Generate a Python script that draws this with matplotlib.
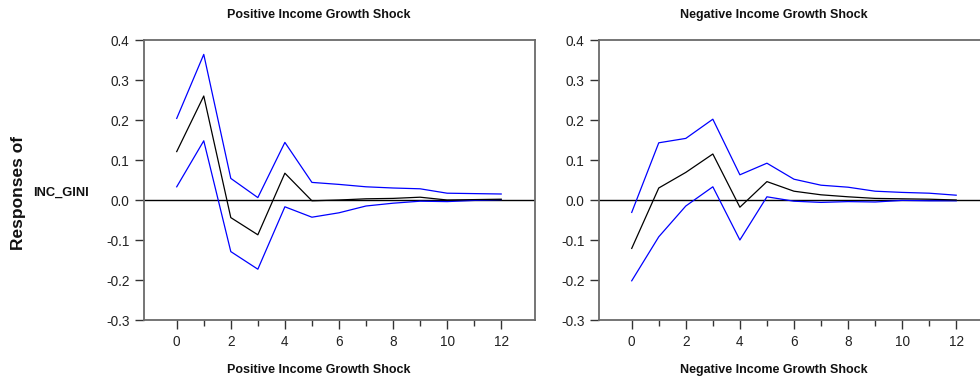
import matplotlib
matplotlib.use("Agg")
import matplotlib.pyplot as plt
from matplotlib.ticker import FixedLocator
import numpy as np

plt.rcParams['font.family'] = ['Liberation Sans', 'DejaVu Sans']

periods = list(range(13))

pos_mid = [0.121, 0.260, -0.044, -0.087, 0.067, -0.002, 0.000, 0.003, 0.004, 0.007, 0.000, 0.001, 0.002]
pos_upper = [0.204, 0.364, 0.054, 0.006, 0.144, 0.044, 0.039, 0.033, 0.030, 0.028, 0.017, 0.016, 0.015]
pos_lower = [0.033, 0.148, -0.129, -0.173, -0.017, -0.043, -0.032, -0.015, -0.008, -0.003, -0.004, -0.001, 0.001]

neg_mid = [-0.121, 0.030, 0.069, 0.115, -0.018, 0.046, 0.022, 0.013, 0.008, 0.004, 0.003, 0.002, 0.000]
neg_upper = [-0.031, 0.143, 0.154, 0.202, 0.063, 0.092, 0.052, 0.037, 0.032, 0.022, 0.019, 0.017, 0.012]
neg_lower = [-0.202, -0.092, -0.015, 0.033, -0.100, 0.008, -0.003, -0.006, -0.004, -0.005, -0.001, -0.002, -0.002]

titles = ["Positive Income Growth Shock", "Negative Income Growth Shock"]
yticks = [-0.3, -0.2, -0.1, 0.0, 0.1, 0.2, 0.3, 0.4]
ytick_labels = ["-0.3", "-0.2", "-0.1", "0.0", "0.1", "0.2", "0.3", "0.4"]
xticks = [0, 2, 4, 6, 8, 10, 12]
xminor = [1, 3, 5, 7, 9, 11]

W, H = 980, 381
fig = plt.figure(figsize=(W / 100, H / 100), dpi=100)

panels = [
    (144, (pos_mid, pos_upper, pos_lower)),
    (599, (neg_mid, neg_upper, neg_lower)),
]
ax_w_px = 391
ax_top_px, ax_bot_px = 40, 320
spine_col = '#6a6a6a'

for (left_px, (mid, up, lo)), title in zip(panels, titles):
    ax = fig.add_axes([left_px / W, (H - ax_bot_px) / H, ax_w_px / W, (ax_bot_px - ax_top_px) / H])
    ax.axhline(0, color='black', lw=1.0, zorder=1)
    ax.plot(periods, up, color='#0000ff', lw=0.9, zorder=2)
    ax.plot(periods, lo, color='#0000ff', lw=0.9, zorder=2)
    ax.plot(periods, mid, color='black', lw=0.9, zorder=3)
    ax.set_xlim(-1.21, 13.25)
    ax.set_ylim(-0.3, 0.4)
    ax.set_yticks(yticks)
    ax.set_yticklabels(ytick_labels)
    ax.set_xticks(xticks)
    ax.set_xticklabels([str(t) for t in xticks])
    ax.xaxis.set_minor_locator(FixedLocator(xminor))
    for s in ax.spines.values():
        s.set_color(spine_col)
        s.set_linewidth(1.3)
    ax.tick_params(axis='both', which='major', direction='out', length=6.5, width=1.0,
                   color='#333333', labelsize=9.8, labelcolor='#222222', pad=4)
    ax.tick_params(axis='x', which='minor', direction='out', length=4.5, width=1.0, color='#333333')
    ax.tick_params(axis='y', which='minor', left=False)
    cx = (left_px + ax_w_px / 2 - 21) / W
    fig.text(cx, 1 - 15 / H, title, ha='center', va='center', fontsize=9, fontweight='bold', color='#111111')
    fig.text(cx, 1 - 370 / H, title, ha='center', va='center', fontsize=9, fontweight='bold', color='#111111')

fig.text(18 / W, 1 - 193 / H, "Responses of", rotation=90, ha='center', va='center',
         fontsize=12.5, fontweight='bold', color='#111111')
fig.text(61 / W, 1 - 193 / H, "INC_GINI", ha='center', va='center',
         fontsize=9.3, fontweight='bold', color='#111111')

fig.savefig("out.png", dpi=100)
